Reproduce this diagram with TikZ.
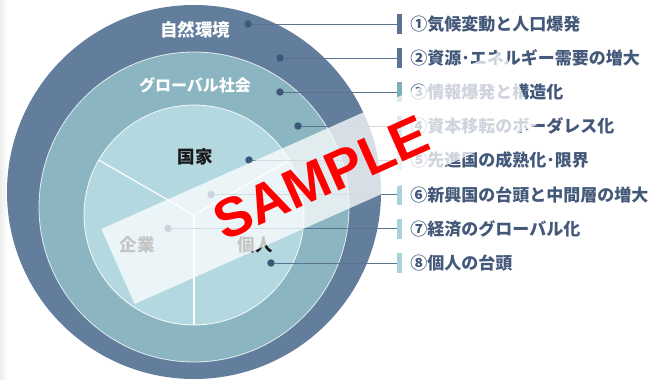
\documentclass[tikz,border=0pt]{standalone}
\usepackage{fontspec}
\setmainfont{Noto Sans CJK JP}
\newfontfamily\samplefont{Liberation Sans}
\usetikzlibrary{positioning}

\definecolor{ringout}{HTML}{637E9C}
\definecolor{ringmid}{HTML}{8AB5C1}
\definecolor{ringin}{HTML}{B3D8E0}
\definecolor{dotnavy}{HTML}{3E5879}
\definecolor{leadline}{HTML}{5A7391}
\definecolor{bardark}{HTML}{5B7393}
\definecolor{barteal}{HTML}{7BAFBA}
\definecolor{barlight}{HTML}{A8D3DC}
\definecolor{itemtext}{HTML}{44597A}

\begin{document}
\begin{tikzpicture}[%
x=1pt, y=-1pt,
dot/.style={circle, fill=dotnavy, inner sep=0pt, minimum size=7.5pt},
leader/.style={draw=leadline, line width=0.8pt},
barbox/.style={rectangle, inner sep=0pt, minimum width=5pt, minimum height=20pt},
item/.style={font=\fontsize{17}{17}\selectfont\bfseries, text=itemtext, inner sep=0pt},
ringlabel/.style={font=\fontsize{17.5}{17.5}\selectfont\bfseries, inner sep=0pt},
]
\useasboundingbox (0,0) rectangle (653,380);
\shade [left color=black!7, right color=white] (0,0) rectangle (8,380);
%% rings;
\coordinate (co) at (194,192);
\coordinate (cm) at (194,207);
\coordinate (ci) at (194,215);
\fill [ringout] (co) circle [radius=187pt];
\filldraw [fill=ringmid, draw=white, draw opacity=0.8, line width=0.8pt] (cm) circle [radius=155pt];
\filldraw [fill=ringin, draw=white, draw opacity=0.9, line width=0.8pt] (ci) circle [radius=110pt];
%% sectors;
\draw [white, line width=1.2pt] (ci) -- (98.7,160);
\draw [white, line width=1.2pt] (ci) -- (289.3,160);
\draw [white, line width=1.2pt] (ci) -- (194,325);
%% labels;
\node [ringlabel, text=white] (nature) at (195,30) {自然環境};
\node [ringlabel, text=white, font=\fontsize{16}{16}\selectfont\bfseries] (global) at (195,85) {グローバル社会};
\node [ringlabel, text=black!90] (state) at (195,157) {国家};
\node [ringlabel, text=black!90] (firm) at (137,245) {企業};
\node [ringlabel, text=black!90] (person) at (255,245) {個人};
%% item 1;
\node [dot] (d1) at (248,24) {};
\node [barbox, fill=bardark] (bar1) at (399.5,24) {};
\draw [leader] (d1) -- (bar1.west);
\node [item, right=8pt of bar1] (t1) {①気候変動と人口爆発};
%% item 2;
\node [dot] (d2) at (280,58) {};
\node [barbox, fill=bardark] (bar2) at (399.5,58) {};
\draw [leader] (d2) -- (bar2.west);
\node [item, right=8pt of bar2] (t2) {②資源･エネルギー需要の増大};
%% item 3;
\node [dot] (d3) at (280,92) {};
\node [barbox, fill=barteal] (bar3) at (399.5,92) {};
\draw [leader] (d3) -- (bar3.west);
\node [item, right=8pt of bar3] (t3) {③情報爆発と構造化};
%% item 4;
\node [dot] (d4) at (298,126) {};
\node [barbox, fill=barteal] (bar4) at (399.5,126) {};
\draw [leader] (d4) -- (bar4.west);
\node [item, right=8pt of bar4] (t4) {④資本移転のボーダレス化};
%% item 5;
\node [dot] (d5) at (249,160) {};
\node [barbox, fill=barlight] (bar5) at (399.5,160) {};
\draw [leader] (d5) -- (bar5.west);
\node [item, right=8pt of bar5] (t5) {⑤先進国の成熟化･限界};
%% item 6;
\node [dot] (d6) at (211,194.5) {};
\node [barbox, fill=barlight] (bar6) at (399.5,194.5) {};
\draw [leader] (d6) -- (bar6.west);
\node [item, right=8pt of bar6] (t6) {⑥新興国の台頭と中間層の増大};
%% item 7;
\node [dot] (d7) at (168,228.5) {};
\node [barbox, fill=barlight] (bar7) at (399.5,228.5) {};
\draw [leader] (d7) -- (bar7.west);
\node [item, right=8pt of bar7] (t7) {⑦経済のグローバル化};
%% item 8;
\node [dot] (d8) at (271,263) {};
\node [barbox, fill=barlight] (bar8) at (399.5,263) {};
\draw [leader] (d8) -- (bar8.west);
\node [item, right=8pt of bar8] (t8) {⑧個人の台頭};
%% watermark;
\node [fill=white, fill opacity=0.75, minimum width=440pt, minimum height=82pt, inner sep=0pt, rotate=24] (band) at (319,177) {};
\node [text=red, font=\samplefont\bfseries\fontsize{55}{55}\selectfont, inner sep=0pt, rotate=24] (sample) at (321,178) {SAMPLE};
\end{tikzpicture}
\end{document}
